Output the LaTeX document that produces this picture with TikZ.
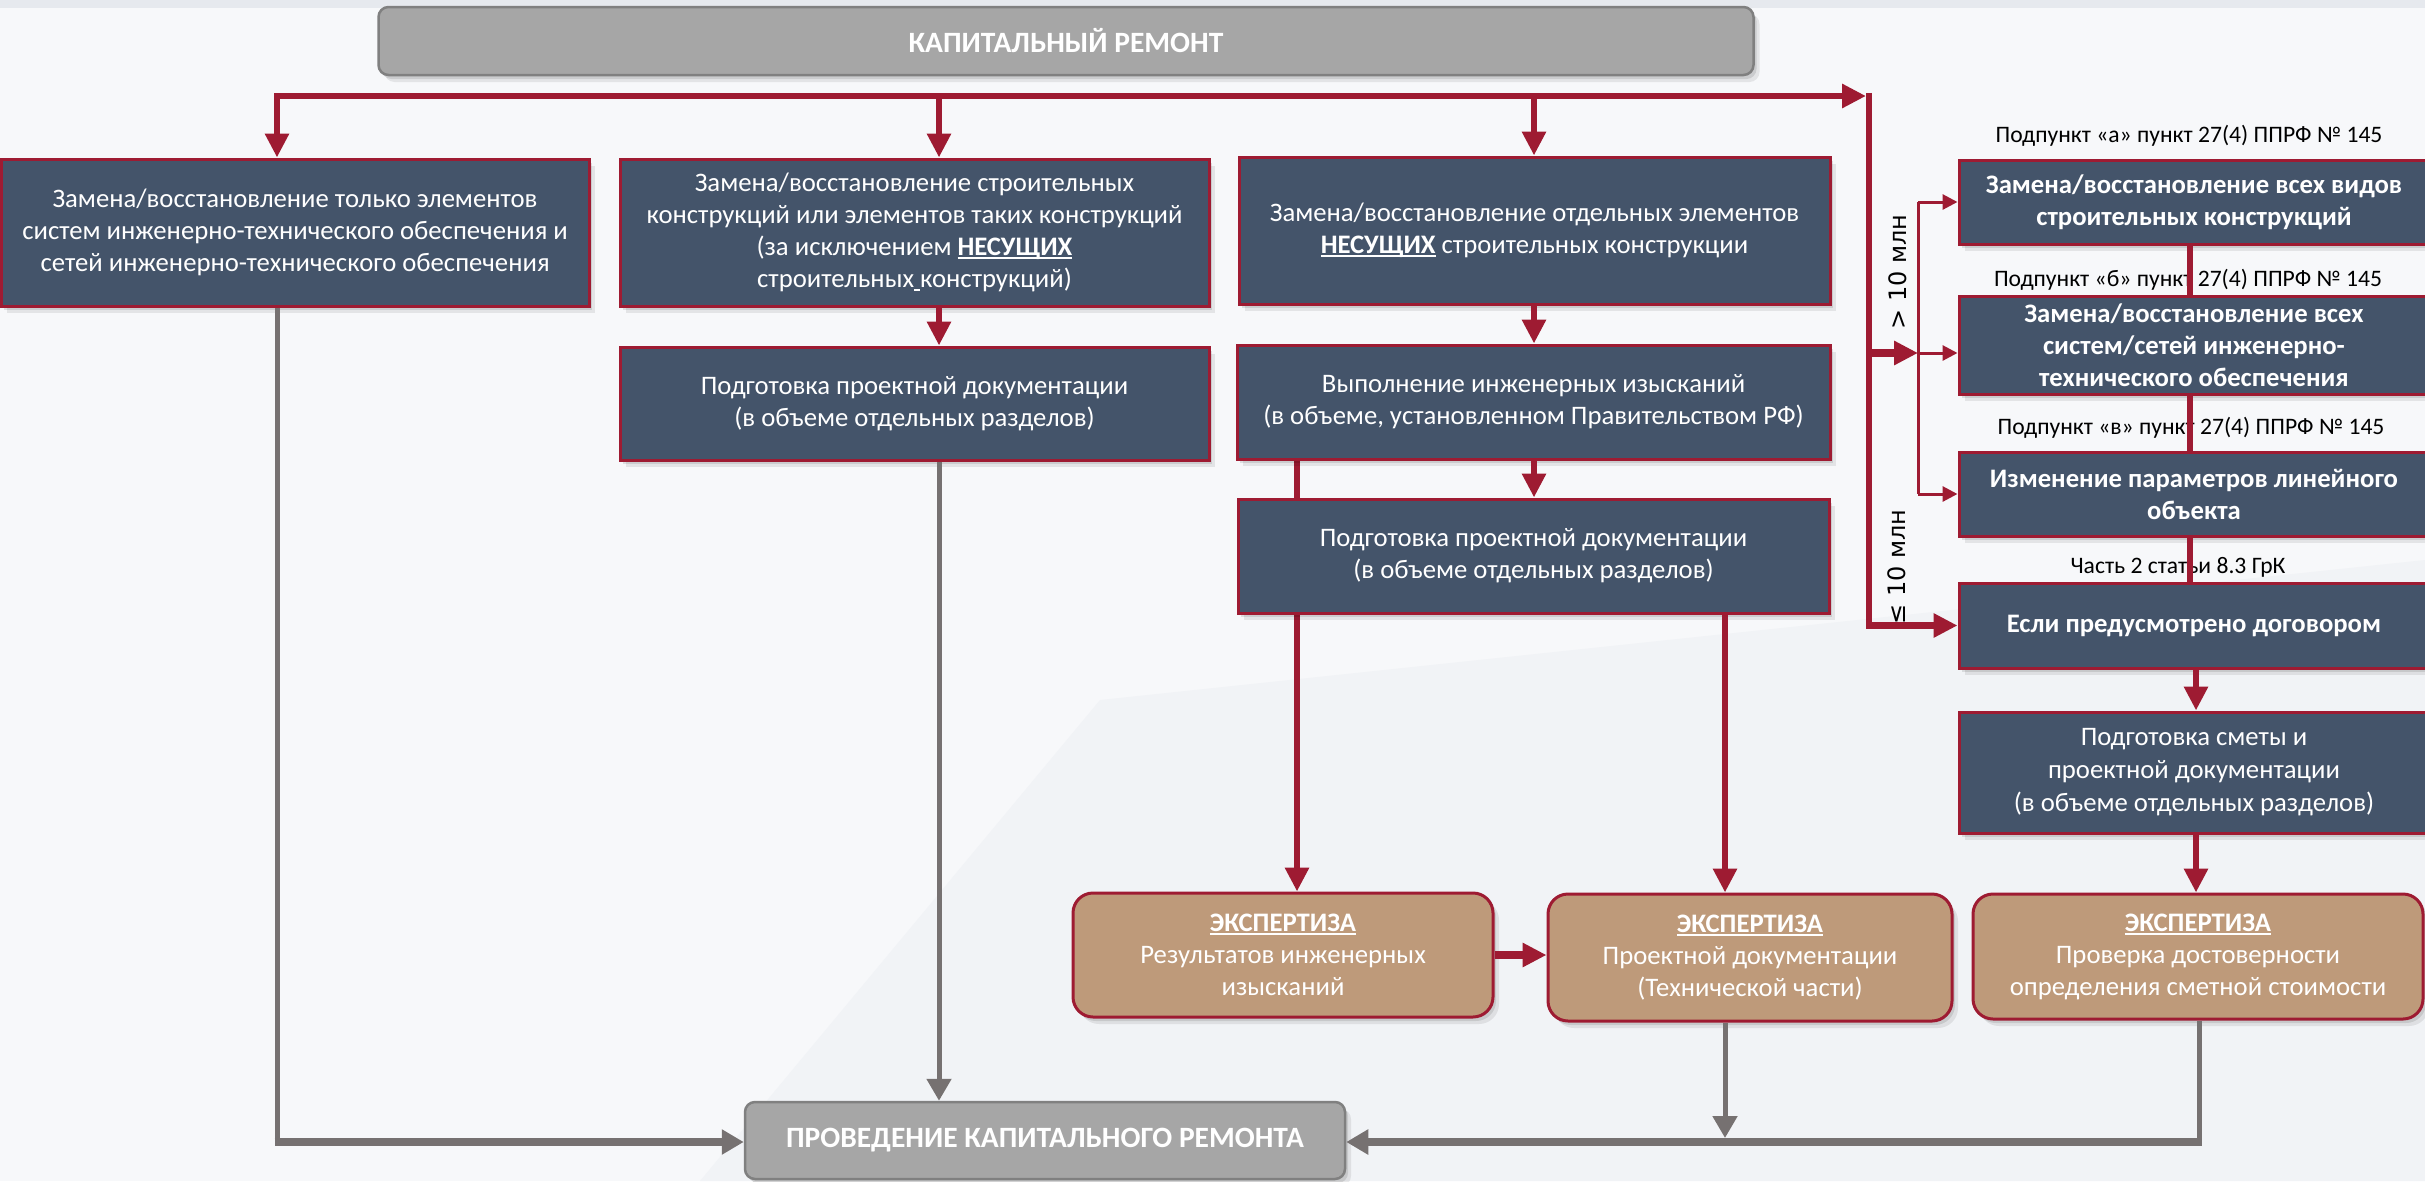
\documentclass[tikz,border=0pt]{standalone}
\usepackage{fontspec}
\setmainfont{Carlito}
\newfontfamily\dvs{DejaVu Sans}
\usetikzlibrary{arrows.meta}
\definecolor{crim}{HTML}{9E1B32}
\definecolor{slate}{HTML}{44546A}
\definecolor{tanc}{HTML}{BE9A7A}
\definecolor{gbox}{HTML}{A6A6A6}
\definecolor{gborder}{HTML}{808080}
\definecolor{gline}{HTML}{767171}
\definecolor{bgc}{HTML}{F7F8FA}
\definecolor{bgtop}{HTML}{E6E9EE}
\definecolor{bgshade}{HTML}{F1F3F6}
\newcommand\myul[1]{\setbox0\hbox{#1}\rlap{\rule[-3.5pt]{\wd0}{1.8pt}}\box0\relax}
\pgfdeclarelayer{back}\pgfdeclarelayer{bgl}\pgfsetlayers{back,bgl,main}
\tikzset{
  bigtip/.tip={Triangle[length=24pt,width=23pt]},
  smalltip/.tip={Triangle[length=15pt,width=15pt]},
  graytip/.tip={Triangle[length=22pt,width=24pt]},
  every node/.style={font=\fontsize{26.7}{32}\selectfont, text=white, inner sep=0pt},
  shd/.style={preaction={draw=none, fill=black, fill opacity=0.10, transform canvas={xshift=3pt,yshift=-4pt}},
              preaction={draw=none, fill=black, fill opacity=0.08, transform canvas={xshift=6pt,yshift=-7pt}}},
  sbox/.style={shd, draw=crim, line width=3pt, fill=slate, align=center},
  bbox/.style={sbox, font=\fontsize{26.7}{32}\selectfont\bfseries},
  ebox/.style={shd, draw=crim, line width=3pt, fill=tanc, rounded corners=20pt, align=center},
  gboxs/.style={shd, draw=gborder, line width=2.5pt, fill=gbox, rounded corners=10pt, align=center, font=\fontsize{29.5}{32}\selectfont\bfseries},
  lab/.style={text=black, font=\fontsize{23.6}{27}\selectfont},
  rot/.style={text=black, rotate=90, font=\dvs\fontsize{24}{28}\selectfont},
  redl/.style={draw=crim, line width=6.5pt},
  redthin/.style={draw=crim, line width=3pt},
  grayv/.style={draw=gline, line width=5pt},
  grayh/.style={draw=gline, line width=8pt},
}
\begin{document}
\begin{tikzpicture}[x=1pt,y=-1pt]
\useasboundingbox (0,0) rectangle (2425,1181);
\begin{pgfonlayer}{back}
\fill[bgc] (0,0) rectangle (2425,1181);
\fill[bgshade] (700,1181) -- (1100,700) -- (2425,560) -- (2425,1181) -- cycle;
\fill[bgtop] (0,0) rectangle (2425,8);
\end{pgfonlayer}
\begin{scope}
\clip (0,0) rectangle (2425,1181);
% nodes
\node[gboxs, minimum width=1375pt, minimum height=68pt] (top) at (1066,41) {КАПИТАЛЬНЫЙ РЕМОНТ};
\node[sbox, minimum width=588pt, minimum height=147pt] (b1) at (295,232.5) {Замена/восстановление только элементов\\систем инженерно-технического обеспечения и\\сетей инженерно-технического обеспечения};
\node[sbox, minimum width=589pt, minimum height=147pt] (b2) at (914.5,232.5) {Замена/восстановление строительных\\конструкций или элементов таких конструкций\\(за исключением \myul{\textbf{НЕСУЩИХ}}\\строительных\myul{\ }конструкций)};
\node[sbox, minimum width=591pt, minimum height=147pt] (b3) at (1534.5,230.5) {Замена/восстановление отдельных элементов\\\myul{\textbf{НЕСУЩИХ}} строительных конструкции};
\node[sbox, minimum width=589pt, minimum height=113pt] (b4) at (914.5,403.5) {Подготовка проектной документации\\(в объеме отдельных разделов)};
\node[sbox, minimum width=593pt, minimum height=114pt] (b5) at (1533.5,402) {Выполнение инженерных изысканий\\(в объеме, установленном Правительством РФ)};
\node[sbox, minimum width=591pt, minimum height=114pt] (b6) at (1533.5,556) {Подготовка проектной документации\\(в объеме отдельных разделов)};
\node[lab] (la) at (2189,136) {Подпункт «а» пункт 27(4) ППРФ № 145};
\node[lab] (lb) at (2188,280) {Подпункт «б» пункт 27(4) ППРФ № 145};
\node[lab] (lc) at (2191,428) {Подпункт «в» пункт 27(4) ППРФ № 145};
\node[lab] (ld) at (2178,567) {Часть 2 статьи 8.3 ГрК};
\node[bbox, minimum width=470pt, minimum height=84pt] (r1) at (2194,202) {Замена/восстановление всех видов\\строительных конструкций};
\node[bbox, minimum width=470pt, minimum height=98pt] (r2) at (2194,345) {Замена/восстановление всех\\систем/сетей инженерно-\\технического обеспечения};
\node[bbox, minimum width=470pt, minimum height=84pt] (r3) at (2194,494) {Изменение параметров линейного\\объекта};
\node[bbox, minimum width=470pt, minimum height=85pt] (r4) at (2194,625.5) {Если предусмотрено договором};
\node[sbox, minimum width=470pt, minimum height=121pt, font=\fontsize{26.7}{33}\selectfont] (r5) at (2194,772.5) {Подготовка сметы и\\проектной документации\\(в объеме отдельных разделов)};
\node[ebox, minimum width=420pt, minimum height=124pt] (e1) at (1283,955) {\myul{\textbf{ЭКСПЕРТИЗА}}\\Результатов инженерных\\изысканий};
\node[ebox, minimum width=404pt, minimum height=127pt] (e2) at (1750,957.5) {\myul{\textbf{ЭКСПЕРТИЗА}}\\Проектной документации\\(Технической части)};
\node[ebox, minimum width=450pt, minimum height=125pt] (e3) at (2198,956.5) {\myul{\textbf{ЭКСПЕРТИЗА}}\\Проверка достоверности\\определения сметной стоимости};
\node[gboxs, minimum width=600pt, minimum height=77pt] (p) at (1045,1140.5) {ПРОВЕДЕНИЕ КАПИТАЛЬНОГО РЕМОНТА};
\node[rot] (t1) at (1898,272) {> 10 млн};
\node[rot] (t2) at (1897,567) {≤ 10 млн};
% coordinates
\coordinate (dA) at (277,96);
\coordinate (dB) at (939,96);
\coordinate (dC) at (1534,96);
\coordinate (busR) at (1866,96);
\coordinate (mainT) at (1869,92.75);
\coordinate (mainM) at (1869,353);
\coordinate (spM) at (1918,353);
\coordinate (spx) at (1918,0);
\coordinate (rx) at (2190,0);
\coordinate (rx2) at (2196,0);
\coordinate (ex1) at (1297,0);
\coordinate (ex2) at (1725,0);
\coordinate (ex3) at (2199,0);
\coordinate (gAc) at (277,1146);
\coordinate (gA) at (274.5,1142);
\coordinate (gE2) at (1725,1138);
\coordinate (gE3c) at (2199,1146);
\coordinate (gE3) at (2201.5,1142);
% red connectors
\draw[redl, bigtip-bigtip] (b1.north -| dA) |- (busR);
\draw[redl, -bigtip] (dB) -- (b2.north -| dB);
\draw[redl, -bigtip] (dC) -- (b3.north -| dC);
\draw[redl, -bigtip] (mainT) |- (r4.west);
\draw[redl, line width=8pt, -bigtip] (mainM) -- (spM);
\draw[redthin] (r1.west -| spx) -- (r3.west -| spx);
\draw[redthin, -smalltip] (r1.west -| spx) -- (r1.west);
\draw[redthin, -smalltip] (spM) -- (r2.west |- spM);
\draw[redthin, -smalltip] (r3.west -| spx) -- (r3.west);
\draw[redl] (r1.south -| rx) -- (r2.north -| rx);
\draw[redl] (r2.south -| rx) -- (r3.north -| rx);
\draw[redl] (r3.south -| rx) -- (r4.north -| rx);
\draw[redl, -bigtip] (r4.south -| rx2) -- (r5.north -| rx2);
\draw[redl, -bigtip] (r5.south -| rx2) -- (e3.north -| rx2);
\draw[redl, -bigtip] (b2.south -| dB) -- (b4.north -| dB);
\draw[redl, -bigtip] (b3.south -| dC) -- (b5.north -| dC);
\draw[redl, -bigtip] (b5.south -| dC) -- (b6.north -| dC);
\draw[redl, -bigtip] (b6.south -| ex2) -- (e2.north -| ex2);
\draw[redl, line width=8pt, -bigtip] (e1.east) -- (e1.east -| e2.west);
% gray connectors
\draw[grayv] (b1.south -| dA) -- (gAc);
\draw[grayh, -graytip] (gA) -- (p.west |- gA);
\draw[grayv, -graytip] (b4.south -| dB) -- (p.north -| dB);
\draw[grayv, -graytip] (e2.south -| ex2) -- (gE2);
\draw[grayv] (e3.south -| ex3) -- (gE3c);
\draw[grayh, -graytip] (gE3) -- (p.east |- gE3);
\end{scope}
\begin{pgfonlayer}{bgl}
\draw[redl, -bigtip] (b5.south -| ex1) -- (e1.north -| ex1);
\end{pgfonlayer}
\end{tikzpicture}
\end{document}
